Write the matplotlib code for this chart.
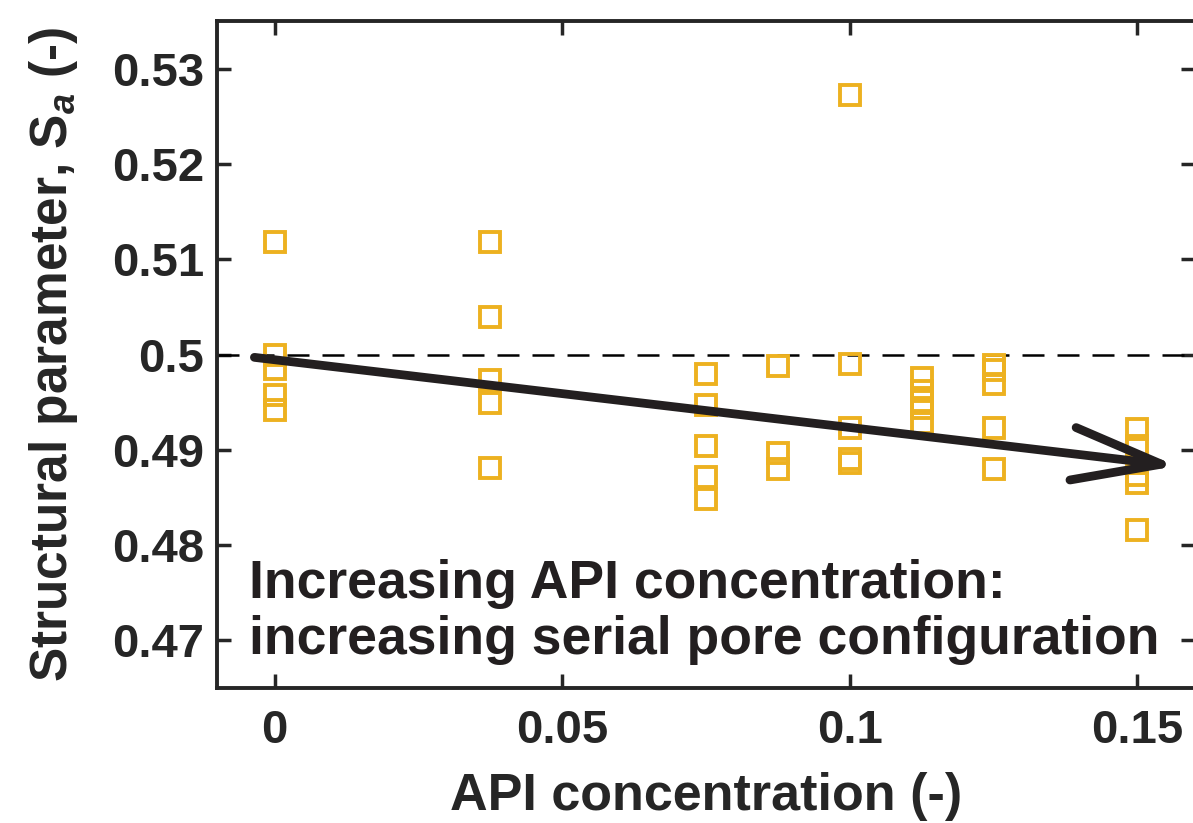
import numpy as np
import matplotlib
matplotlib.use('Agg')
import matplotlib.pyplot as plt

plt.rcParams['font.family'] = ['Liberation Sans', 'DejaVu Sans']
plt.rcParams['font.weight'] = 'bold'
plt.rcParams['mathtext.fontset'] = 'custom'
plt.rcParams['mathtext.rm'] = 'Liberation Sans:bold'
plt.rcParams['mathtext.it'] = 'Liberation Sans:italic:bold'
plt.rcParams['mathtext.bf'] = 'Liberation Sans:bold'

# data
api_conc = [0, 0.0375, 0.075, 0.0875, 0.1, 0.1125, 0.125, 0.15]
sa_values = [
    [0.5118, 0.4999, 0.4985, 0.4957, 0.4942],
    [0.5118, 0.5039, 0.4973, 0.4949, 0.4881],
    [0.4980, 0.4947, 0.4904, 0.4871, 0.4848],
    [0.4988, 0.4897, 0.4880],
    [0.5272, 0.4990, 0.4923, 0.4890, 0.4886],
    [0.4975, 0.4962, 0.4951, 0.4944, 0.4928],
    [0.4989, 0.4984, 0.4969, 0.4923, 0.4880],
    [0.4922, 0.4904, 0.4874, 0.4865, 0.4816],
]
ref_level = 0.5
arrow_start = (-0.0035, 0.4997)
arrow_end = (0.1568, 0.4883)
note_lines = ['Increasing API concentration:', 'increasing serial pore configuration']
note_x = -0.0045
note_y = [0.4744, 0.4686]

axcol = '#262626'
fig = plt.figure(figsize=(11.93, 8.23), dpi=100)
ax = fig.add_axes([217/1193, 1 - 688/823, (1195 - 217)/1193, (688 - 21)/823])

for xv, ys in zip(api_conc, sa_values):
    ax.plot([xv]*len(ys), ys, 's', ms=14, mfc='none', mec='#EDB120', mew=2.8, zorder=3)

ax.axhline(ref_level, color='black', ls=(0, (8.8, 5.2)), lw=1.8, zorder=2)

ax.annotate('', xy=arrow_end, xytext=arrow_start,
            arrowprops=dict(arrowstyle='->,head_length=3.2,head_width=0.95',
                            color='#231f20', lw=6.3, mutation_scale=20,
                            shrinkA=0, shrinkB=0), zorder=4)

for txt, yy in zip(note_lines, note_y):
    ax.text(note_x, yy, txt, fontsize=38.5, fontweight='bold', color='#231f20',
            ha='left', va='baseline')

ax.set_xlim(-0.01, 0.16)
ax.set_ylim(0.465, 0.535)
ax.set_xticks([0, 0.05, 0.1, 0.15])
ax.set_xticklabels(['0', '0.05', '0.1', '0.15'])
ax.set_yticks([0.47, 0.48, 0.49, 0.5, 0.51, 0.52, 0.53])
ax.set_yticklabels(['0.47', '0.48', '0.49', '0.5', '0.51', '0.52', '0.53'])
ax.tick_params(direction='in', length=10, width=2.5, top=True, right=True,
               labelsize=34, colors=axcol)
ax.tick_params(axis='x', pad=15)
ax.tick_params(axis='y', pad=9)
for lab in ax.get_xticklabels() + ax.get_yticklabels():
    lab.set_fontweight('bold')
for s in ax.spines.values():
    s.set_linewidth(2.8)
    s.set_color(axcol)

ax.set_xlabel('API concentration (-)', fontsize=37.5, fontweight='bold', color=axcol, labelpad=14)
ax.set_ylabel(r'Structural parameter, S$_a$ (-)', fontsize=37, fontweight='bold',
              color=axcol, labelpad=23)

fig.savefig('out.png', dpi=100)
